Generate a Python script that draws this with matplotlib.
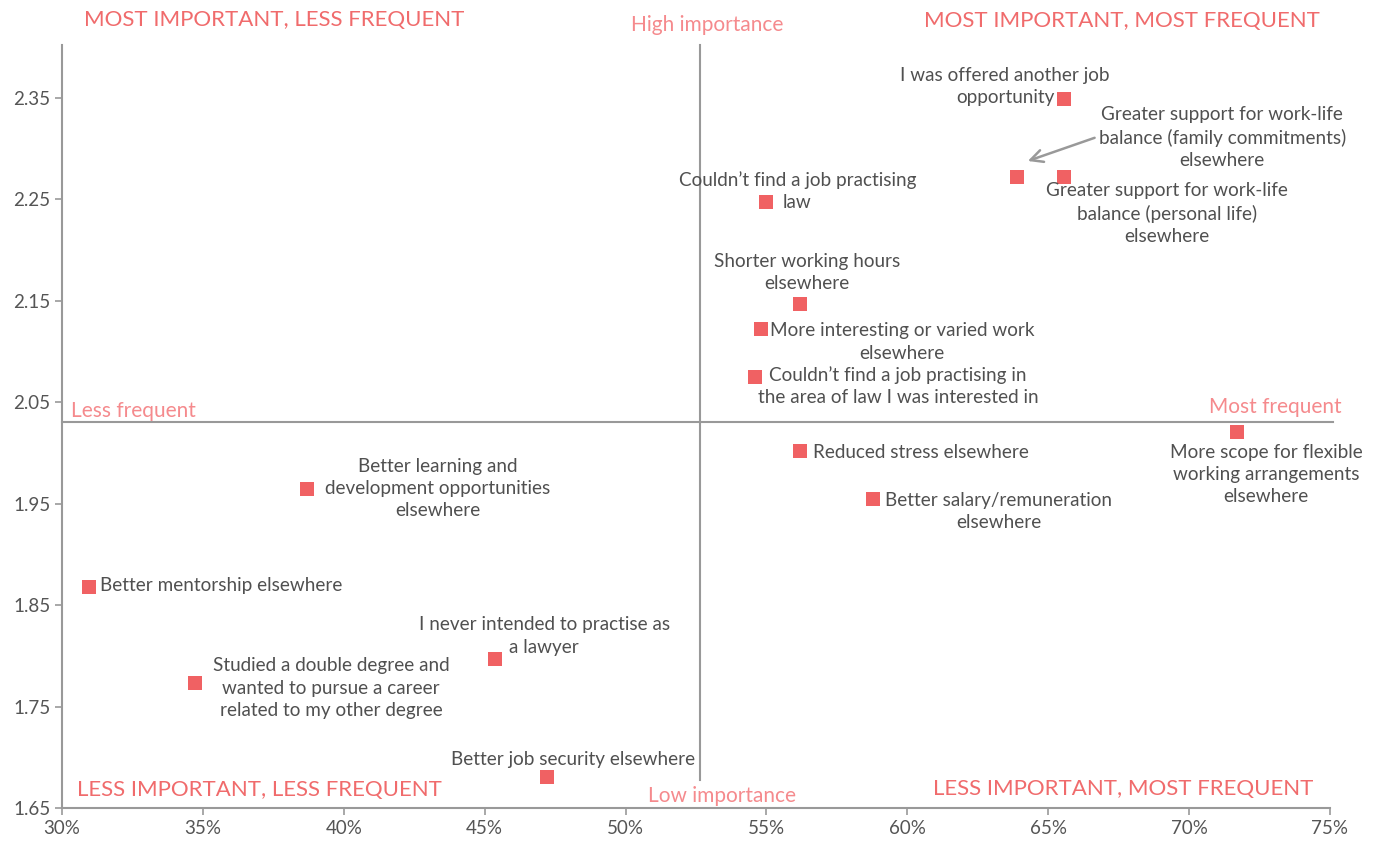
import matplotlib
matplotlib.use("Agg")
import matplotlib.pyplot as plt
import matplotlib.transforms as mtransforms
from matplotlib.ticker import FuncFormatter

plt.rcParams['font.family'] = ['Lato', 'DejaVu Sans']

# ---- data ----
labels = [
    "I was offered another job\nopportunity",
    "Greater support for work-life\nbalance (family commitments)\nelsewhere",
    "Greater support for work-life\nbalance (personal life)\nelsewhere",
    "Couldn\u2019t find a job practising\nlaw",
    "Shorter working hours\nelsewhere",
    "More interesting or varied work\nelsewhere",
    "Couldn\u2019t find a job practising in\nthe area of law I was interested in",
    "Reduced stress elsewhere",
    "Better salary/remuneration\nelsewhere",
    "More scope for flexible\nworking arrangements\nelsewhere",
    "Better learning and\ndevelopment opportunities\nelsewhere",
    "Better mentorship elsewhere",
    "I never intended to practise as\na lawyer",
    "Studied a double degree and\nwanted to pursue a career\nrelated to my other degree",
    "Better job security elsewhere",
]
frequency = [65.56, 63.9, 65.56, 55.0, 56.19, 54.8, 54.59, 56.19, 58.78, 71.7,
             38.69, 30.96, 45.37, 34.72, 47.21]
importance = [2.349, 2.272, 2.272, 2.247, 2.147, 2.122, 2.075, 2.002, 1.955, 2.021,
              1.964, 1.868, 1.797, 1.773, 1.681]
freq_divider = 52.64
imp_divider = 2.030
x_ticks = [30, 35, 40, 45, 50, 55, 60, 65, 70, 75]
y_ticks = [1.65, 1.75, 1.85, 1.95, 2.05, 2.15, 2.25, 2.35]

# label offsets (pixels) from marker to text centre
label_offsets = [(-59, 12), (205, 39), (103, -37), (31, 11), (7, 31), (141, -13),
                 (143, -9), (121, -2), (126, -13), (29, -43), (131, 1), (132, 1),
                 (49, 23), (136, -5), (26, 17)]

W, H = 1379, 841
fig = plt.figure(figsize=(W / 100, H / 100), dpi=100)
ax = fig.add_axes([62 / W, 1 - 808 / H, (1330 - 62) / W, (808 - 45) / H])

red = '#F06163'
title_col = '#F06B6C'
soft = '#F58A8D'
grey = '#999999'
txt = '#505050'

ax.set_xlim(30, 75)
ax.set_ylim(1.65, 2.402)
for s in ['top', 'right']:
    ax.spines[s].set_visible(False)
for s in ['left', 'bottom']:
    ax.spines[s].set_color(grey)
    ax.spines[s].set_linewidth(1.5)
ax.set_xticks(x_ticks)
ax.set_yticks(y_ticks)
ax.xaxis.set_major_formatter(FuncFormatter(lambda v, p: f"{v:.0f}%"))
ax.yaxis.set_major_formatter(FuncFormatter(lambda v, p: f"{v:.2f}"))
ax.tick_params(colors=grey, labelcolor='#555555', labelsize=13.5, length=5, width=1.2)

# dividers
ax.plot([freq_divider, freq_divider], [1.678, 2.402], color=grey, lw=1.5, zorder=1, clip_on=False)
ax.plot([30, 75.1], [imp_divider, imp_divider], color=grey, lw=1.5, zorder=1, clip_on=False)

ax.scatter(frequency, importance, marker='s', s=90, color=red, zorder=3, linewidths=0)

for lab, fx, iy, off in zip(labels, frequency, importance, label_offsets):
    ax.annotate(lab, (fx, iy), xytext=off, textcoords='offset pixels',
                ha='center', va='center', multialignment='center',
                fontsize=13.6, color=txt, linespacing=1.38)

# arrow for family commitments label
tr_head = mtransforms.offset_copy(ax.transData, fig=fig, x=8, y=15, units='dots')
tr_tail = mtransforms.offset_copy(ax.transData, fig=fig, x=80, y=40, units='dots')
ax.annotate('', xy=(frequency[1], importance[1]), xycoords=tr_head,
            xytext=(frequency[1], importance[1]), textcoords=tr_tail,
            arrowprops=dict(arrowstyle='->', color=grey, lw=1.8, mutation_scale=22))

def ftext(x, y, s, **kw):
    fig.text(x / W, 1 - y / H, s, ha='center', va='center', **kw)

ftext(274, 20, "MOST IMPORTANT, LESS FREQUENT", fontsize=16, color=title_col)
ftext(1122, 21, "MOST IMPORTANT, MOST FREQUENT", fontsize=16, color=title_col)
ftext(259, 790, "LESS IMPORTANT, LESS FREQUENT", fontsize=16, color=title_col)
ftext(1123, 789, "LESS IMPORTANT, MOST FREQUENT", fontsize=16, color=title_col)
ftext(707, 25, "High importance", fontsize=15, color=soft)
ftext(722, 796, "Low importance", fontsize=15, color=soft)
ftext(133, 411, "Less frequent", fontsize=15, color=soft)
ftext(1275, 407, "Most frequent", fontsize=15, color=soft)

fig.savefig('out.png', dpi=100)
